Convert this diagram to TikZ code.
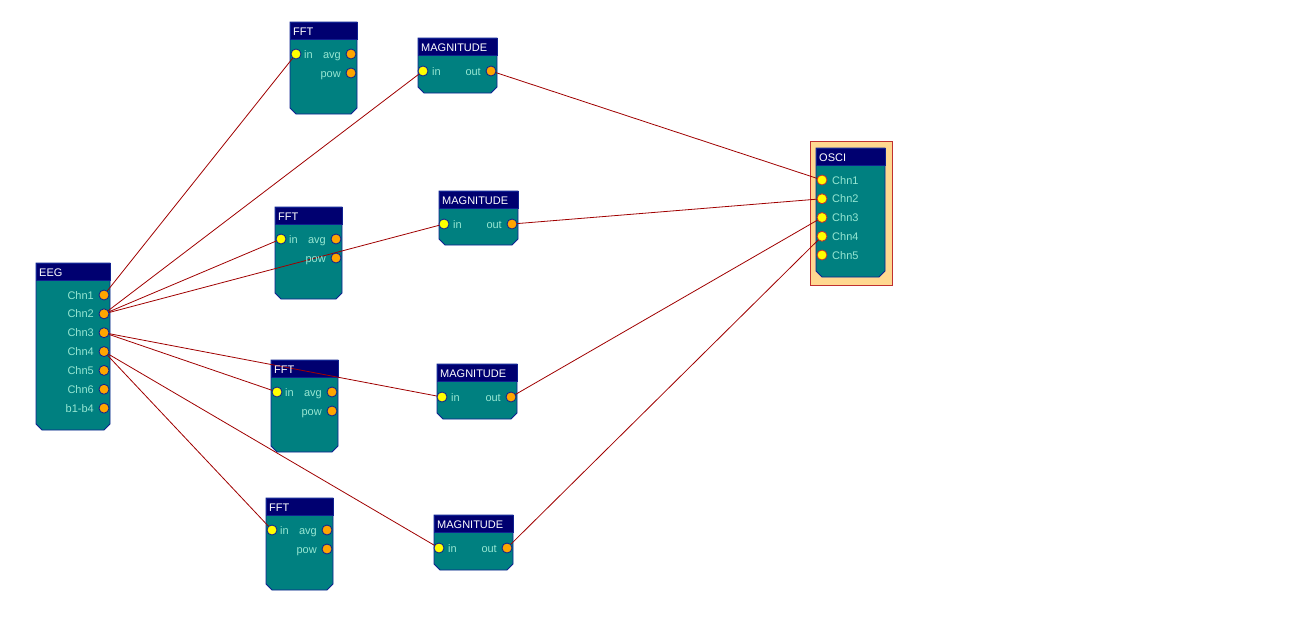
\documentclass[tikz,border=0pt]{standalone}
\usepackage{fontspec}
\setmainfont{Liberation Sans}
\usetikzlibrary{calc}
\pgfdeclarelayer{blocks}
\pgfdeclarelayer{lines}
\pgfsetlayers{blocks,lines,main}
\definecolor{bodyteal}{RGB}{0,128,128}
\definecolor{hdrnavy}{RGB}{0,0,112}
\definecolor{bordernavy}{RGB}{16,32,144}
\definecolor{lbltxt}{RGB}{150,230,210}
\definecolor{wire}{RGB}{160,0,0}
\definecolor{inport}{RGB}{255,255,0}
\definecolor{outport}{RGB}{255,165,0}
\definecolor{framefill}{RGB}{255,216,144}
\definecolor{frameline}{RGB}{192,48,48}
\tikzset{
  blockbody/.style={fill=bodyteal, draw=bordernavy, line width=0.9pt},
  hdr/.style={fill=hdrnavy, draw=bordernavy, line width=0.9pt},
  ttl/.style={anchor=base west, text=white, font=\fontsize{11}{12}\selectfont, inner sep=0pt},
  lblL/.style={anchor=base west, text=lbltxt, font=\fontsize{11}{12}\selectfont, inner sep=0pt},
  lblR/.style={anchor=base east, text=lbltxt, font=\fontsize{11}{12}\selectfont, inner sep=0pt},
  pin/.style={circle, fill=inport, draw=bordernavy, line width=0.8pt, minimum size=10pt, inner sep=0pt},
  pout/.style={circle, fill=outport, draw=bordernavy, line width=0.8pt, minimum size=10pt, inner sep=0pt},
  posci/.style={circle, fill=inport, draw=frameline, line width=0.8pt, minimum size=10pt, inner sep=0pt},
  wirestyle/.style={draw=wire, line width=0.8pt},
}
\newcommand\fblock[6]{%
  \begin{pgfonlayer}{blocks}
    \draw[blockbody] (#1,#2) -- (#3,#2) -- (#3,#4-6) -- (#3-6,#4) -- (#1+6,#4) -- (#1,#4-6) -- cycle;
    \draw[hdr] (#1,#2) rectangle (#3,#2+17);
  \end{pgfonlayer}
  \node[ttl] (#5) at (#1+3,#2+13) {#6};
}
% FFT block: x1 y1 x2 y2 name
\newcommand\fftblock[5]{%
  \fblock{#1}{#2}{#3}{#4}{#5}{FFT}
  \node[pin] (#5in) at (#1+6,#2+32) {};
  \node[pout] (#5avg) at (#3-6,#2+32) {};
  \node[pout] (#5pow) at (#3-6,#2+51) {};
  \node[lblL] (#5inl) at (#1+14,#2+36) {in};
  \node[lblR] (#5avgl) at (#3-16,#2+36) {avg};
  \node[lblR] (#5powl) at (#3-16,#2+55) {pow};
}
\newcommand\magblock[5]{%
  \fblock{#1}{#2}{#3}{#4}{#5}{MAGNITUDE}
  \node[pin] (#5in) at (#1+5,#2+33) {};
  \node[pout] (#5out) at (#3-6,#2+33) {};
  \node[lblL] (#5inl) at (#1+14,#2+37) {in};
  \node[lblR] (#5outl) at (#3-16,#2+37) {out};
}
\begin{document}
\begin{tikzpicture}[x=1pt,y=-1pt]
\begin{pgfonlayer}{blocks}
  \fill[white] (0,0) rectangle (1297,632);
\end{pgfonlayer}
\useasboundingbox (0,0) rectangle (1297,632);

% EEG
\fblock{36}{263}{110}{430}{eeg}{EEG}
\foreach \i/\t in {1/Chn1,2/Chn2,3/Chn3,4/Chn4,5/Chn5,6/Chn6,7/b1-b4}{
  \node[pout] (eeg\i) at (104,{295+18.85*(\i-1)}) {};
  \node[lblR] (eegl\i) at (94,{299+18.85*(\i-1)}) {\t};
}

% FFT blocks
\fftblock{290}{22}{357}{114}{fa}
\fftblock{275}{207}{342}{299}{fb}
\fftblock{271}{360}{338}{452}{fc}
\fftblock{266}{498}{333}{590}{fd}

% MAGNITUDE blocks
\magblock{418}{38}{497}{93}{ma}
\magblock{439}{191}{518}{245}{mb}
\magblock{437}{364}{517}{419}{mc}
\magblock{434}{515}{513}{570}{md}

% OSCI
\begin{pgfonlayer}{blocks}
  \draw[fill=framefill, draw=frameline, line width=0.9pt] (810,141) rectangle (892,285);
\end{pgfonlayer}
\fblock{816}{148}{885}{277}{osci}{OSCI}
\foreach \i in {1,...,5}{
  \node[posci] (os\i) at (822,{180+18.75*(\i-1)}) {};
  \node[lblL] (osl\i) at (832,{184+18.75*(\i-1)}) {Chn\i};
}

% wires
\begin{pgfonlayer}{lines}
  \draw[wirestyle] (eeg1.center) -- (fain.center);
  \draw[wirestyle] (eeg2.center) -- (main.center);
  \draw[wirestyle] (eeg2.center) -- (fbin.center);
  \draw[wirestyle] (eeg2.center) -- (mbin.center);
  \draw[wirestyle] (eeg3.center) -- (fcin.center);
  \draw[wirestyle] (eeg3.center) -- (mcin.center);
  \draw[wirestyle] (eeg4.center) -- (fdin.center);
  \draw[wirestyle] (eeg4.center) -- (mdin.center);
  \draw[wirestyle] (maout.center) -- (os1.center);
  \draw[wirestyle] (mbout.center) -- (os2.center);
  \draw[wirestyle] (mcout.center) -- (os3.center);
  \draw[wirestyle] (mdout.center) -- (os4.center);
\end{pgfonlayer}
\end{tikzpicture}
\end{document}
